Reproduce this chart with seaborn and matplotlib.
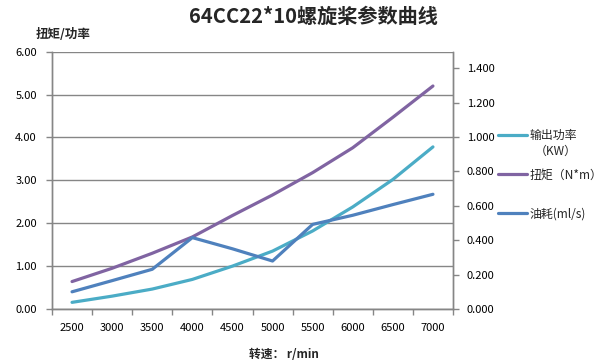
import matplotlib
matplotlib.use('Agg')
import matplotlib.pyplot as plt
import seaborn as sns
import pandas as pd
from matplotlib.ticker import FormatStrFormatter, FixedLocator

speeds = ['2500', '3000', '3500', '4000', '4500', '5000', '5500', '6000', '6500', '7000']
power = [0.155, 0.30, 0.465, 0.69, 1.00, 1.35, 1.82, 2.38, 3.02, 3.78]
torque = [0.64, 0.95, 1.30, 1.68, 2.18, 2.66, 3.18, 3.76, 4.47, 5.20]
fuel = [0.10, 0.165, 0.231, 0.415, 0.35, 0.279, 0.492, 0.545, 0.607, 0.667]

labels = ['输出功率', '扭矩（N*m）', '油耗(ml/s)']
power_unit = '（KW）'
colors = ['#4BACC6', '#8064A2', '#4F81BD']

sns.set_theme(style='white')
plt.rcParams['font.family'] = ['Noto Sans CJK SC', 'DejaVu Sans']
plt.rcParams['axes.unicode_minus'] = False

df = pd.DataFrame({'speed': speeds, 'power': power, 'torque': torque, 'fuel': fuel})
df['pos'] = range(len(speeds))

fig = plt.figure(figsize=(6.03, 3.64), dpi=100)
ax = fig.add_axes([52 / 603, (364 - 309) / 364, 401 / 603, 257.3 / 364])
ax2 = ax.twinx()

lw = 2.3
sns.lineplot(data=df, x='pos', y='power', ax=ax, color=colors[0], lw=lw, label=labels[0], legend=False)
sns.lineplot(data=df, x='pos', y='torque', ax=ax, color=colors[1], lw=lw, label=labels[1], legend=False)
sns.lineplot(data=df, x='pos', y='fuel', ax=ax2, color=colors[2], lw=lw, label=labels[2], legend=False)

grid_c = '#868686'
ax.set_xlim(-0.5, len(speeds) - 0.5)
ax.set_ylim(0, 6)
ax2.set_ylim(0, 1.496)
ax.set_yticks(range(0, 7))
ax.yaxis.set_major_formatter(FormatStrFormatter('%.2f'))
ax2.set_yticks([0, 0.2, 0.4, 0.6, 0.8, 1.0, 1.2, 1.4])
ax2.yaxis.set_major_formatter(FormatStrFormatter('%.3f'))
ax.grid(axis='y', color=grid_c, lw=1)
ax.set_axisbelow(True)

ax.set_xticks(range(len(speeds)))
ax.set_xticklabels(speeds)
ax.xaxis.set_minor_locator(FixedLocator([i - 0.5 for i in range(len(speeds) + 1)]))
ax.tick_params(axis='x', which='major', length=0, pad=10, labelsize=8, labelcolor='#000000')
ax.tick_params(axis='x', which='minor', length=4, width=1, color=grid_c, bottom=True)
ax.tick_params(axis='y', length=4, width=1, color=grid_c, left=True, labelsize=8, pad=7, labelcolor='#000000')
ax2.tick_params(axis='y', length=4, width=1, color=grid_c, right=True, labelsize=8, pad=6, labelcolor='#000000')

for a in (ax, ax2):
    a.spines['top'].set_visible(False)
    for s in ['left', 'right', 'bottom']:
        a.spines[s].set_color(grid_c)
        a.spines[s].set_linewidth(1)
ax.set_xlabel('')
ax.set_ylabel('')
ax2.set_ylabel('')

fig.text(313 / 603, 1 - 16 / 364, '64CC22*10螺旋桨参数曲线', ha='center', va='center',
         fontsize=14.5, fontweight='bold')
fig.text(36 / 603, 1 - 35 / 364, '扭矩/功率', ha='left', va='center', fontsize=9, fontweight='bold')
fig.text(284 / 603, 1 - 355 / 364, '转速： r/min', ha='center', va='center', fontsize=8.5, fontweight='bold')

h1, lab1 = ax.get_legend_handles_labels()
h2, lab2 = ax2.get_legend_handles_labels()
leg = fig.legend(h1 + h2, lab1 + lab2, loc='upper left', bbox_to_anchor=(498 / 603, 1 - 129 / 364),
                 frameon=False, fontsize=8.6, handlelength=2.4, handletextpad=0.2, labelspacing=2.2,
                 borderpad=0, borderaxespad=0)
fig.canvas.draw()
ax.annotate(power_unit, xy=(1, 0), xycoords=leg.get_texts()[0], xytext=(0, -2),
            textcoords='offset points', ha='right', va='top', fontsize=8.6)

fig.savefig('out.png', dpi=100)
